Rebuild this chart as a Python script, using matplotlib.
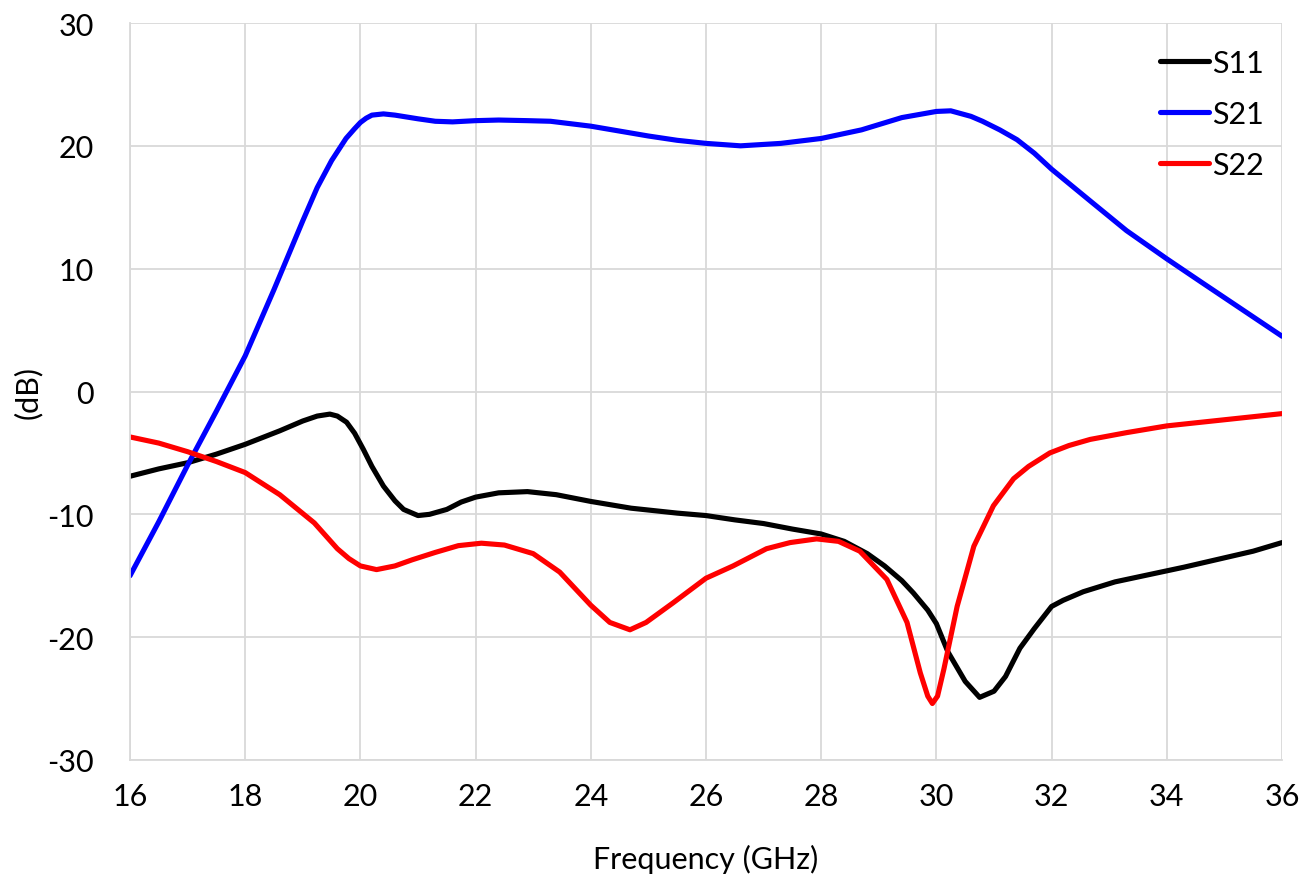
import matplotlib
matplotlib.use("Agg")
import matplotlib.pyplot as plt

s21_f = [16.0, 16.5, 17.0, 17.5, 18.0, 18.5, 19.0, 19.25, 19.5, 19.75, 19.9, 20.0, 20.1, 20.2,
         20.4, 20.6, 21.0, 21.3, 21.6, 22.0, 22.4, 22.9, 23.3, 24.0, 24.5, 25.0, 25.5, 26.0, 26.6,
         27.3, 28.0, 28.7, 29.4, 30.0, 30.25, 30.6, 30.8, 31.1, 31.4, 31.7, 32.0, 32.7, 33.3,
         34.0, 34.6, 35.3, 36.0]
s21_db = [-15.0, -10.6, -6.0, -1.6, 2.9, 8.3, 13.9, 16.6, 18.8, 20.6, 21.4, 21.9, 22.25, 22.5,
          22.6, 22.5, 22.2, 22.0, 21.95, 22.05, 22.1, 22.05, 22.0, 21.6, 21.2, 20.8, 20.45, 20.2,
          20.0, 20.2, 20.6, 21.3, 22.3, 22.8, 22.85, 22.4, 22.0, 21.3, 20.5, 19.4, 18.1, 15.4,
          13.1, 10.8, 8.9, 6.7, 4.5]

s11_f = [16.0, 16.5, 17.0, 17.5, 18.0, 18.6, 19.0, 19.25, 19.47, 19.6, 19.76, 19.9, 20.05, 20.2,
         20.4, 20.6, 20.75, 21.0, 21.2, 21.5, 21.75, 22.0, 22.4, 22.9, 23.4, 24.0, 24.7, 25.5,
         26.0, 26.5, 27.0, 27.5, 28.0, 28.4, 28.8, 29.1, 29.4, 29.6, 29.85, 30.0, 30.2, 30.5,
         30.75, 31.0, 31.2, 31.45, 31.7, 32.0, 32.2, 32.55, 33.1, 33.7, 34.3, 34.9, 35.5, 36.0]
s11_db = [-6.9, -6.3, -5.8, -5.1, -4.3, -3.2, -2.4, -2.0, -1.84, -2.0, -2.5, -3.4, -4.7, -6.1,
          -7.7, -8.9, -9.6, -10.1, -10.0, -9.6, -9.0, -8.6, -8.25, -8.15, -8.4, -8.95, -9.5, -9.9,
          -10.1, -10.45, -10.75, -11.2, -11.6, -12.2, -13.2, -14.2, -15.4, -16.4, -17.8, -18.9,
          -21.2, -23.6, -24.9, -24.4, -23.2, -20.9, -19.3, -17.5, -17.0, -16.3, -15.5, -14.9,
          -14.3, -13.65, -13.0, -12.3]

s22_f = [16.0, 16.5, 17.0, 17.5, 18.0, 18.6, 19.2, 19.6, 19.8, 20.0, 20.28, 20.6, 20.9, 21.3,
         21.7, 22.1, 22.5, 23.0, 23.46, 24.0, 24.33, 24.68, 24.96, 25.43, 26.0, 26.47, 27.05,
         27.46, 27.92, 28.3, 28.67, 29.14, 29.49, 29.72, 29.85, 29.93, 30.02, 30.13, 30.36,
         30.65, 30.99, 31.34, 31.6, 31.97, 32.3, 32.67, 33.3, 34.0, 34.7, 35.3, 36.0]
s22_db = [-3.7, -4.2, -4.9, -5.7, -6.6, -8.4, -10.7, -12.8, -13.6, -14.2, -14.5, -14.2, -13.7,
          -13.1, -12.55, -12.35, -12.5, -13.2, -14.7, -17.4, -18.8, -19.4, -18.8, -17.2, -15.2,
          -14.2, -12.8, -12.3, -12.0, -12.2, -13.0, -15.3, -18.8, -22.9, -24.8, -25.4, -24.8,
          -22.6, -17.5, -12.6, -9.3, -7.1, -6.1, -5.0, -4.4, -3.9, -3.35, -2.8, -2.45, -2.15, -1.8]

x_ticks = [16, 18, 20, 22, 24, 26, 28, 30, 32, 34, 36]
y_ticks = [-30, -20, -10, 0, 10, 20, 30]

plt.rcParams['font.family'] = ['Lato', 'DejaVu Sans']
plt.rcParams['axes.unicode_minus'] = False

fig = plt.figure(figsize=(13.16, 8.79), dpi=100)
ax = fig.add_axes([130/1316, 1 - 761/879, (1282-130)/1316, (761-24)/879])

kw = dict(lw=3.7, solid_capstyle='round', solid_joinstyle='round')
ax.plot(s11_f, s11_db, color='black', label='S11', **kw)
ax.plot(s21_f, s21_db, color='#0000ff', label='S21', **kw)
ax.plot(s22_f, s22_db, color='#ff0000', label='S22', **kw)

ax.set_xlim(16, 36)
ax.set_ylim(-30, 30)
ax.set_xticks(x_ticks)
ax.set_yticks(y_ticks)
ax.grid(True, color='#d9d9d9', lw=1.3)
ax.set_axisbelow(True)
for s in ['top', 'right']:
    ax.spines[s].set_visible(False)
for s in ['left', 'bottom']:
    ax.spines[s].set_color('#d9d9d9')
    ax.spines[s].set_linewidth(1.3)
ax.tick_params(axis='x', length=0, labelsize=22, pad=16, colors='black')
ax.tick_params(axis='y', length=0, labelsize=22, pad=26, colors='black')
ax.set_xlabel('Frequency (GHz)', fontsize=22, labelpad=24)
ax.set_ylabel('(dB)', fontsize=22, labelpad=4)

leg = ax.legend(loc='upper right', frameon=False, fontsize=22, handlelength=1.6,
                handletextpad=0.1, labelspacing=0.75, borderaxespad=0.45,
                bbox_to_anchor=(1.007, 1.0))

fig.savefig('out.png', dpi=100, facecolor='white')
